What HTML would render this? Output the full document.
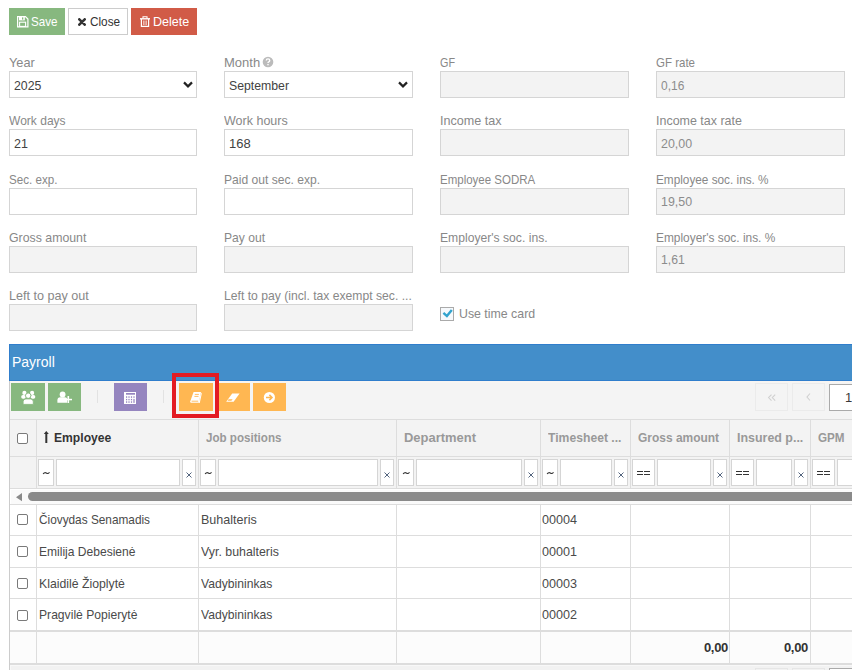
<!DOCTYPE html>
<html><head><meta charset="utf-8">
<style>
*{box-sizing:border-box;margin:0;padding:0}
html,body{width:852px;height:670px;overflow:hidden;background:#fff}
body{position:relative;font-family:"Liberation Sans",sans-serif;font-size:13px;color:#424242;line-height:15px}
.a{position:absolute}
.t{white-space:nowrap}
.lbl{color:#888}
.w{color:#fff}
.inp{position:absolute;width:189px;height:27px;border:1px solid #d5d5d5;background:#fff}
.inp.d{background:#f3f3f3}
.dv{color:#8c8c8c}
.tb{position:absolute;top:383px;width:34px;height:28px}
.tb svg{position:absolute;left:0;top:0}
.hl{position:absolute;left:10px;width:850px;height:1px;background:#ddd}
.vl{position:absolute;width:1px;background:#ddd}
.fb{position:absolute;top:459px;height:27px;border:1px solid #d5d5d5;background:#fff}
.cbx{position:absolute;left:17px;width:11px;height:11px;border:1px solid #7a7a7a;border-radius:2px;background:#fff}
.hd{font-weight:bold;color:#999}
.dk{color:#333}
.bt{color:#4a4a4a}
</style></head><body>
<div class="a" style="left:9px;top:8px;width:56px;height:27px;background:#87b87f"></div>
<svg class="a" style="left:17px;top:16px" width="12" height="12" viewBox="0 0 12 12">
<path d="M0.6 0.6 H8.4 L10.9 3.1 V10.9 H0.6 Z" fill="none" stroke="#fff" stroke-width="1.2"/>
<rect x="2" y="0.6" width="5.8" height="3.8" fill="#fff"/><rect x="5" y="1.4" width="1.3" height="2.2" fill="#87b87f"/>
<rect x="2.6" y="6.2" width="6" height="4.2" fill="none" stroke="#fff" stroke-width="1.1"/>
</svg>
<div class="a t w" style="left:31px;top:14px;letter-spacing:0px;transform:scaleX(0.893);transform-origin:0 0;">Save</div>
<div class="a" style="left:68px;top:8px;width:60px;height:27px;background:#fff;border:1px solid #ccc"></div>
<svg class="a" style="left:78px;top:18px" width="8" height="8"><path d="M1.3 1.3 L6.7 6.7 M6.7 1.3 L1.3 6.7" stroke="#333" stroke-width="2.6" stroke-linecap="round"/></svg>
<div class="a t dk" style="left:90px;top:14px;letter-spacing:0px;transform:scaleX(0.906);transform-origin:0 0;">Close</div>
<div class="a" style="left:131px;top:8px;width:66px;height:27px;background:#d15b47"></div>
<svg class="a" style="left:140px;top:16px" width="10" height="11" viewBox="0 0 10 11">
<path d="M3 2.4 V0.8 H7 V2.4" fill="none" stroke="#fff" stroke-width="1.1"/>
<path d="M0 2.8 H10" stroke="#fff" stroke-width="1.4"/>
<path d="M1.4 3 V10.4 H8.6 V3" fill="none" stroke="#fff" stroke-width="1.2"/>
<path d="M3.6 4.5 V9 M5 4.5 V9 M6.4 4.5 V9" stroke="#fff" stroke-width="0.8" opacity="0.8"/>
</svg>
<div class="a t w" style="left:153px;top:14px;letter-spacing:0px;transform:scaleX(0.964);transform-origin:0 0;">Delete</div>
<div class="a t lbl" style="left:9px;top:55px;letter-spacing:0px;transform:scaleX(0.98);transform-origin:0 0;">Year</div>
<div class="inp" style="left:9px;top:71px;width:188px"></div>
<div class="a t " style="left:14px;top:78px;letter-spacing:0px;transform:scaleX(0.946);transform-origin:0 0;">2025</div>
<svg class="a" style="left:182px;top:80px" width="12" height="10"><path d="M2 2.4 L6 6.4 L10 2.4" fill="none" stroke="#222" stroke-width="2.2"/></svg>
<div class="a t lbl" style="left:224px;top:55px;letter-spacing:0px;transform:scaleX(1);transform-origin:0 0;">Month</div>
<div class="inp" style="left:224px;top:71px;"></div>
<div class="a t " style="left:229px;top:78px;letter-spacing:0px;transform:scaleX(0.943);transform-origin:0 0;">September</div>
<svg class="a" style="left:397px;top:80px" width="12" height="10"><path d="M2 2.4 L6 6.4 L10 2.4" fill="none" stroke="#222" stroke-width="2.2"/></svg>
<div class="a t lbl" style="left:440px;top:55px;letter-spacing:0px;transform:scaleX(0.83);transform-origin:0 0;">GF</div>
<div class="inp d" style="left:440px;top:71px;"></div>
<div class="a t lbl" style="left:656px;top:55px;letter-spacing:0px;transform:scaleX(0.885);transform-origin:0 0;">GF rate</div>
<div class="inp d" style="left:656px;top:71px;"></div>
<div class="a t dv" style="left:661px;top:78px;letter-spacing:0px;transform:scaleX(0.92);transform-origin:0 0;">0,16</div>
<div class="a t lbl" style="left:9px;top:113px;letter-spacing:0px;transform:scaleX(0.926);transform-origin:0 0;">Work days</div>
<div class="inp" style="left:9px;top:129px;width:188px"></div>
<div class="a t " style="left:14px;top:136px;letter-spacing:0px;transform:scaleX(0.96);transform-origin:0 0;">21</div>
<div class="a t lbl" style="left:224px;top:113px;letter-spacing:0px;transform:scaleX(0.962);transform-origin:0 0;">Work hours</div>
<div class="inp" style="left:224px;top:129px;"></div>
<div class="a t " style="left:229px;top:136px;letter-spacing:0px;transform:scaleX(1);transform-origin:0 0;">168</div>
<div class="a t lbl" style="left:440px;top:113px;letter-spacing:0px;transform:scaleX(0.968);transform-origin:0 0;">Income tax</div>
<div class="inp d" style="left:440px;top:129px;"></div>
<div class="a t lbl" style="left:656px;top:113px;letter-spacing:0px;transform:scaleX(0.959);transform-origin:0 0;">Income tax rate</div>
<div class="inp d" style="left:656px;top:129px;"></div>
<div class="a t dv" style="left:661px;top:136px;letter-spacing:0px;transform:scaleX(0.955);transform-origin:0 0;">20,00</div>
<div class="a t lbl" style="left:9px;top:172px;letter-spacing:0px;transform:scaleX(0.894);transform-origin:0 0;">Sec. exp.</div>
<div class="inp" style="left:9px;top:188px;width:188px"></div>
<div class="a t lbl" style="left:224px;top:172px;letter-spacing:0px;transform:scaleX(0.93);transform-origin:0 0;">Paid out sec. exp.</div>
<div class="inp" style="left:224px;top:188px;"></div>
<div class="a t lbl" style="left:440px;top:172px;letter-spacing:0px;transform:scaleX(0.885);transform-origin:0 0;">Employee SODRA</div>
<div class="inp d" style="left:440px;top:188px;"></div>
<div class="a t lbl" style="left:656px;top:172px;letter-spacing:0px;transform:scaleX(0.906);transform-origin:0 0;">Employee soc. ins. %</div>
<div class="inp d" style="left:656px;top:188px;"></div>
<div class="a t dv" style="left:661px;top:194px;letter-spacing:0px;transform:scaleX(0.955);transform-origin:0 0;">19,50</div>
<div class="a t lbl" style="left:9px;top:230px;letter-spacing:0px;transform:scaleX(0.948);transform-origin:0 0;">Gross amount</div>
<div class="inp d" style="left:9px;top:246px;width:188px"></div>
<div class="a t lbl" style="left:224px;top:230px;letter-spacing:0px;transform:scaleX(0.93);transform-origin:0 0;">Pay out</div>
<div class="inp d" style="left:224px;top:246px;"></div>
<div class="a t lbl" style="left:440px;top:230px;letter-spacing:0px;transform:scaleX(0.934);transform-origin:0 0;">Employer's soc. ins.</div>
<div class="inp d" style="left:440px;top:246px;"></div>
<div class="a t lbl" style="left:656px;top:230px;letter-spacing:0px;transform:scaleX(0.915);transform-origin:0 0;">Employer's soc. ins. %</div>
<div class="inp d" style="left:656px;top:246px;"></div>
<div class="a t dv" style="left:661px;top:252px;letter-spacing:0px;transform:scaleX(0.94);transform-origin:0 0;">1,61</div>
<div class="a t lbl" style="left:9px;top:288px;letter-spacing:0px;transform:scaleX(0.969);transform-origin:0 0;">Left to pay out</div>
<div class="inp d" style="left:9px;top:304px;width:188px"></div>
<div class="a t lbl" style="left:224px;top:288px;letter-spacing:0px;transform:scaleX(0.935);transform-origin:0 0;">Left to pay (incl. tax exempt sec. ...</div>
<div class="inp d" style="left:224px;top:304px;"></div>
<svg class="a" style="left:262px;top:56px" width="12" height="12" viewBox="0 0 12 12"><circle cx="6" cy="6" r="5.3" fill="#bbb"/><path d="M4.3 4.6 Q4.3 2.9 6 2.9 Q7.7 2.9 7.7 4.4 Q7.7 5.3 6.7 5.8 Q6 6.1 6 7" fill="none" stroke="#fff" stroke-width="1.4"/><rect x="5.3" y="7.9" width="1.4" height="1.4" fill="#fff"/></svg>
<div class="a" style="left:440px;top:307px;width:14px;height:14px;border:1px solid #aaa;background:#f6f9fc"></div>
<svg class="a" style="left:440px;top:307px" width="14" height="14"><path d="M3.4 5.8 L6.9 9.1 L11.8 3" fill="none" stroke="#32a3ce" stroke-width="2.4"/></svg>
<div class="a t lbl" style="left:459px;top:306px;letter-spacing:0px;transform:scaleX(0.949);transform-origin:0 0;">Use time card</div>
<div class="a" style="left:9px;top:344px;width:850px;height:37px;background:#438eca;border:1px solid #307ecc;border-right:0"></div>
<div class="a t" style="left:12px;top:354px;color:#fff;font-size:14px;line-height:16px">Payroll</div>
<div class="a" style="left:9px;top:381px;width:850px;height:38px;background:#f4f4f4;border-left:1px solid #ccc"></div>
<div class="a" style="left:10px;top:381px;width:850px;height:2px;background:#f7f5f3"></div>
<div class="tb" style="left:11px;width:34px;background:#87b87f"><svg width="34" height="28" viewBox="0 0 34 28"><g fill="#fff"><circle cx="13.4" cy="9.9" r="2.1"/><circle cx="21.1" cy="9.9" r="2.1"/>
<rect x="10.2" y="12" width="4.6" height="3.8" rx="1.8"/><rect x="19.7" y="12" width="4.6" height="3.8" rx="1.8"/></g>
<g fill="#fff" stroke="#87b87f" stroke-width="0.9"><circle cx="17.2" cy="12.7" r="2.7"/><path d="M12.1 21.4 V18.7 Q12.1 15.9 14.9 15.9 H19.5 Q22.3 15.9 22.3 18.7 V21.4 Z"/></g></svg></div>
<div class="tb" style="left:48px;width:33px;background:#87b87f"><svg width="34" height="28" viewBox="0 0 34 28"><g fill="#fff"><circle cx="14.6" cy="11.5" r="2.9"/><path d="M9.4 19.8 V17.2 Q9.4 14.3 12.4 14.3 H16.6 Q18.6 14.3 19 15.5 V19.8 Z"/>
<rect x="16.5" y="15.8" width="7.5" height="1.5"/><rect x="19.5" y="13" width="1.6" height="7"/></g></svg></div>
<div class="a" style="left:97px;top:390px;width:1px;height:13px;background:#e2e2e2"></div>
<div class="tb" style="left:114px;width:33px;background:#9585bf"><svg width="34" height="28" viewBox="0 0 34 28"><rect x="10" y="9" width="12" height="12" fill="#fff"/><rect x="12" y="10" width="9" height="1.7" fill="#9585bf"/>
<g fill="#9585bf"><rect x="12" y="13.3" width="1.2" height="1.5"/><rect x="14.4" y="13.3" width="1.2" height="1.5"/><rect x="16.9" y="13.3" width="1.2" height="1.5"/><rect x="19.4" y="13.3" width="1.2" height="1.5"/>
<rect x="12" y="15.9" width="1.2" height="1.4"/><rect x="14.4" y="15.9" width="1.2" height="1.4"/><rect x="16.9" y="15.9" width="1.2" height="1.4"/><rect x="19.4" y="15.9" width="1.2" height="4"/>
<rect x="12" y="18.3" width="1.2" height="1.5"/><rect x="14.4" y="18.3" width="1.2" height="1.5"/><rect x="16.9" y="18.3" width="1.2" height="1.5"/></g></svg></div>
<div class="a" style="left:163px;top:390px;width:1px;height:13px;background:#e2e2e2"></div>
<div class="tb" style="left:179px;width:34px;background:#ffb752"><svg width="34" height="28" viewBox="0 0 34 28"><path d="M14.6 9 H22 L19.8 19.8 H12.2 Q11 19.8 11.3 18.3 Z" fill="#fff"/>
<path d="M22 9.5 L22.8 10.5 L20.8 20 L19.6 19.8 Z" fill="#fff"/>
<g stroke="#ffb752" stroke-width="0.9"><path d="M15.8 11.4 H19.9 M15.4 13.4 H19.5"/><path d="M12.6 18.2 H19.2"/></g></svg></div>
<div class="tb" style="left:216px;width:34px;background:#ffb752"><svg width="34" height="28" viewBox="0 0 34 28"><path d="M16.2 10.4 H23.6 L17.6 18.8 H10.2 Z" fill="#fff"/><path d="M12.6 16.3 H16.6 L15.4 17.7 H11.6 Z" fill="#ffb752"/></svg></div>
<div class="tb" style="left:253px;width:33px;background:#ffb752"><svg width="34" height="28" viewBox="0 0 34 28"><circle cx="16.4" cy="14.5" r="5.6" fill="#fff"/><path d="M13 14.5 H19 M16.4 11.9 L19 14.5 L16.4 17.1" fill="none" stroke="#ffb752" stroke-width="1.5"/></svg></div>
<div class="a" style="left:172px;top:373px;width:47px;height:45px;border:4px solid #e31b23"></div>
<div class="a" style="left:755px;top:383px;width:33px;height:28px;border:1px solid #ebebeb;background:#f4f4f4"></div>
<svg class="a" style="left:767px;top:394px" width="10" height="8"><path d="M4.5 0.6 L1.6 3.6 L4.5 6.6 M8.2 0.6 L5.3 3.6 L8.2 6.6" fill="none" stroke="#d0d0d0" stroke-width="1.1"/></svg>
<div class="a" style="left:792px;top:383px;width:33px;height:28px;border:1px solid #ebebeb;background:#f4f4f4"></div>
<svg class="a" style="left:805px;top:392px" width="8" height="10"><path d="M5 1.5 L2 5 L5 8.5" fill="none" stroke="#d0d0d0" stroke-width="1.1"/></svg>
<div class="a" style="left:829px;top:384px;width:40px;height:27px;border:1px solid #aaa;background:#fff"></div>
<div class="a t" style="left:845px;top:390px;color:#393939">1</div>
<div class="a" style="left:9px;top:419px;width:1px;height:251px;background:#ccc"></div>
<div class="hl" style="top:419px"></div>
<div class="a" style="left:10px;top:420px;width:850px;height:36px;background:#f3f3f3"></div>
<div class="hl" style="top:456px"></div>
<div class="a" style="left:10px;top:457px;width:850px;height:31px;background:#f3f3f3"></div>
<div class="hl" style="top:488px"></div>
<div class="hl" style="top:504px"></div>
<div class="hl" style="top:535px"></div>
<div class="hl" style="top:567px"></div>
<div class="hl" style="top:598px"></div>
<div class="hl" style="top:630px;height:2px"></div>
<div class="a" style="left:10px;top:632px;width:850px;height:31px;background:#fcfcfc"></div>
<div class="hl" style="top:663px;height:2px"></div>
<div class="a" style="left:10px;top:665px;width:852px;height:6px;background:#f2f2f2;border-top:1px solid #f8f8f8;border-left:1px solid #f8f8f8"></div>
<div class="a" style="left:755px;top:668px;width:33px;height:10px;border:1px solid #e6e6e6;background:#f2f2f2"></div>
<div class="a" style="left:792px;top:668px;width:33px;height:10px;border:1px solid #e6e6e6;background:#f2f2f2"></div>
<div class="a" style="left:829px;top:668px;width:40px;height:10px;border:1px solid #aaa;background:#fff"></div>
<div class="vl" style="left:36px;top:419px;height:70px"></div>
<div class="vl" style="left:36px;top:504px;height:159px"></div>
<div class="vl" style="left:198px;top:419px;height:70px"></div>
<div class="vl" style="left:198px;top:504px;height:159px"></div>
<div class="vl" style="left:396px;top:419px;height:70px"></div>
<div class="vl" style="left:396px;top:504px;height:159px"></div>
<div class="vl" style="left:540px;top:419px;height:70px"></div>
<div class="vl" style="left:540px;top:504px;height:159px"></div>
<div class="vl" style="left:630px;top:419px;height:70px"></div>
<div class="vl" style="left:630px;top:504px;height:159px"></div>
<div class="vl" style="left:729px;top:419px;height:70px"></div>
<div class="vl" style="left:729px;top:504px;height:159px"></div>
<div class="vl" style="left:810px;top:419px;height:70px"></div>
<div class="vl" style="left:810px;top:504px;height:159px"></div>
<div class="fb" style="left:38px;width:16px"></div>
<svg class="a" style="left:42px;top:471px" width="9" height="5"><path d="M1.1 3.1 C2.1 1.3 3.4 1.4 4.3 2 C5.2 2.6 6.4 2.8 7.5 1.2" fill="none" stroke="#333" stroke-width="1.05"/></svg>
<div class="fb" style="left:56px;width:124px"></div>
<div class="fb" style="left:182px;width:14px"></div>
<svg class="a" style="left:186px;top:472px" width="6" height="6"><path d="M0.5 0.5 L5.5 5.5 M5.5 0.5 L0.5 5.5" stroke="#4b5d78" stroke-width="0.95"/></svg>
<div class="fb" style="left:200px;width:16px"></div>
<svg class="a" style="left:204px;top:471px" width="9" height="5"><path d="M1.1 3.1 C2.1 1.3 3.4 1.4 4.3 2 C5.2 2.6 6.4 2.8 7.5 1.2" fill="none" stroke="#333" stroke-width="1.05"/></svg>
<div class="fb" style="left:218px;width:160px"></div>
<div class="fb" style="left:380px;width:14px"></div>
<svg class="a" style="left:384px;top:472px" width="6" height="6"><path d="M0.5 0.5 L5.5 5.5 M5.5 0.5 L0.5 5.5" stroke="#4b5d78" stroke-width="0.95"/></svg>
<div class="fb" style="left:398px;width:16px"></div>
<svg class="a" style="left:402px;top:471px" width="9" height="5"><path d="M1.1 3.1 C2.1 1.3 3.4 1.4 4.3 2 C5.2 2.6 6.4 2.8 7.5 1.2" fill="none" stroke="#333" stroke-width="1.05"/></svg>
<div class="fb" style="left:416px;width:106px"></div>
<div class="fb" style="left:524px;width:14px"></div>
<svg class="a" style="left:528px;top:472px" width="6" height="6"><path d="M0.5 0.5 L5.5 5.5 M5.5 0.5 L0.5 5.5" stroke="#4b5d78" stroke-width="0.95"/></svg>
<div class="fb" style="left:542px;width:16px"></div>
<svg class="a" style="left:546px;top:471px" width="9" height="5"><path d="M1.1 3.1 C2.1 1.3 3.4 1.4 4.3 2 C5.2 2.6 6.4 2.8 7.5 1.2" fill="none" stroke="#333" stroke-width="1.05"/></svg>
<div class="fb" style="left:560px;width:52px"></div>
<div class="fb" style="left:614px;width:14px"></div>
<svg class="a" style="left:618px;top:472px" width="6" height="6"><path d="M0.5 0.5 L5.5 5.5 M5.5 0.5 L0.5 5.5" stroke="#4b5d78" stroke-width="0.95"/></svg>
<div class="fb" style="left:632px;width:23px"></div>
<svg class="a" style="left:637px;top:470px" width="14" height="6"><path d="M0 1.5 H6 M7 1.5 H13 M0 4.5 H6 M7 4.5 H13" stroke="#333" stroke-width="1"/></svg>
<div class="fb" style="left:657px;width:54px"></div>
<div class="fb" style="left:713px;width:14px"></div>
<svg class="a" style="left:717px;top:472px" width="6" height="6"><path d="M0.5 0.5 L5.5 5.5 M5.5 0.5 L0.5 5.5" stroke="#4b5d78" stroke-width="0.95"/></svg>
<div class="fb" style="left:731px;width:23px"></div>
<svg class="a" style="left:736px;top:470px" width="14" height="6"><path d="M0 1.5 H6 M7 1.5 H13 M0 4.5 H6 M7 4.5 H13" stroke="#333" stroke-width="1"/></svg>
<div class="fb" style="left:756px;width:36px"></div>
<div class="fb" style="left:794px;width:14px"></div>
<svg class="a" style="left:798px;top:472px" width="6" height="6"><path d="M0.5 0.5 L5.5 5.5 M5.5 0.5 L0.5 5.5" stroke="#4b5d78" stroke-width="0.95"/></svg>
<div class="fb" style="left:812px;width:23px"></div>
<svg class="a" style="left:817px;top:470px" width="14" height="6"><path d="M0 1.5 H6 M7 1.5 H13 M0 4.5 H6 M7 4.5 H13" stroke="#333" stroke-width="1"/></svg>
<div class="fb" style="left:837px;width:45px"></div>
<div class="fb" style="left:884px;width:14px"></div>
<svg class="a" style="left:888px;top:472px" width="6" height="6"><path d="M0.5 0.5 L5.5 5.5 M5.5 0.5 L0.5 5.5" stroke="#4b5d78" stroke-width="0.95"/></svg>
<div class="a" style="left:10px;top:489px;width:850px;height:15px;background:#fafafa;border-top:1px solid #fff;border-left:1px solid #fff"></div>
<svg class="a" style="left:16px;top:493px" width="7" height="9"><path d="M0 4.2 L6 0 L6 8.2 Z" fill="#8a8a8a"/></svg>
<div class="a" style="left:28px;top:492px;width:840px;height:9px;border-radius:4.5px;background:#8a8a8a"></div>
<div class="cbx" style="top:433px"></div>
<svg class="a" style="left:43px;top:430px" width="7" height="14"><path d="M3.3 3 V13" stroke="#333" stroke-width="2"/><path d="M0.8 3.9 L3.3 0.9 L5.8 3.9 Z" fill="#333"/></svg>
<div class="a t hd dk" style="left:54px;top:430px;letter-spacing:0px;transform:scaleX(0.933);transform-origin:0 0;">Employee</div>
<div class="a t hd" style="left:206px;top:430px;letter-spacing:0px;transform:scaleX(0.893);transform-origin:0 0;">Job positions</div>
<div class="a t hd" style="left:404px;top:430px;letter-spacing:0px;transform:scaleX(0.996);transform-origin:0 0;">Department</div>
<div class="a t hd" style="left:548px;top:430px;letter-spacing:0px;transform:scaleX(0.936);transform-origin:0 0;">Timesheet ...</div>
<div class="a t hd" style="left:638px;top:430px;letter-spacing:0px;transform:scaleX(0.92);transform-origin:0 0;">Gross amount</div>
<div class="a t hd" style="left:737px;top:430px;letter-spacing:0px;transform:scaleX(0.956);transform-origin:0 0;">Insured p...</div>
<div class="a t hd" style="left:818px;top:430px;letter-spacing:0px;transform:scaleX(0.897);transform-origin:0 0;">GPM</div>
<div class="cbx" style="top:514px"></div>
<div class="a t bt" style="left:39px;top:512px;letter-spacing:0px;transform:scaleX(0.909);transform-origin:0 0;">Čiovydas Senamadis</div>
<div class="a t bt" style="left:201px;top:512px;letter-spacing:0px;transform:scaleX(0.964);transform-origin:0 0;">Buhalteris</div>
<div class="a t bt" style="left:542px;top:512px;letter-spacing:0px;transform:scaleX(0.97);transform-origin:0 0;">00004</div>
<div class="cbx" style="top:546px"></div>
<div class="a t bt" style="left:39px;top:544px;letter-spacing:0px;transform:scaleX(0.927);transform-origin:0 0;">Emilija Debesienė</div>
<div class="a t bt" style="left:201px;top:544px;letter-spacing:0px;transform:scaleX(0.951);transform-origin:0 0;">Vyr. buhalteris</div>
<div class="a t bt" style="left:542px;top:544px;letter-spacing:0px;transform:scaleX(0.97);transform-origin:0 0;">00001</div>
<div class="cbx" style="top:578px"></div>
<div class="a t bt" style="left:39px;top:576px;letter-spacing:0px;transform:scaleX(0.944);transform-origin:0 0;">Klaidilė Žioplytė</div>
<div class="a t bt" style="left:201px;top:576px;letter-spacing:0px;transform:scaleX(0.934);transform-origin:0 0;">Vadybininkas</div>
<div class="a t bt" style="left:542px;top:576px;letter-spacing:0px;transform:scaleX(0.97);transform-origin:0 0;">00003</div>
<div class="cbx" style="top:610px"></div>
<div class="a t bt" style="left:39px;top:607px;letter-spacing:0px;transform:scaleX(0.933);transform-origin:0 0;">Pragvilė Popierytė</div>
<div class="a t bt" style="left:201px;top:607px;letter-spacing:0px;transform:scaleX(0.934);transform-origin:0 0;">Vadybininkas</div>
<div class="a t bt" style="left:542px;top:607px;letter-spacing:0px;transform:scaleX(0.97);transform-origin:0 0;">00002</div>
<div class="a t hd dk" style="right:124px;top:640px;letter-spacing:-0.3px">0,00</div>
<div class="a t hd dk" style="right:44px;top:640px;letter-spacing:-0.3px">0,00</div>
</body></html>
